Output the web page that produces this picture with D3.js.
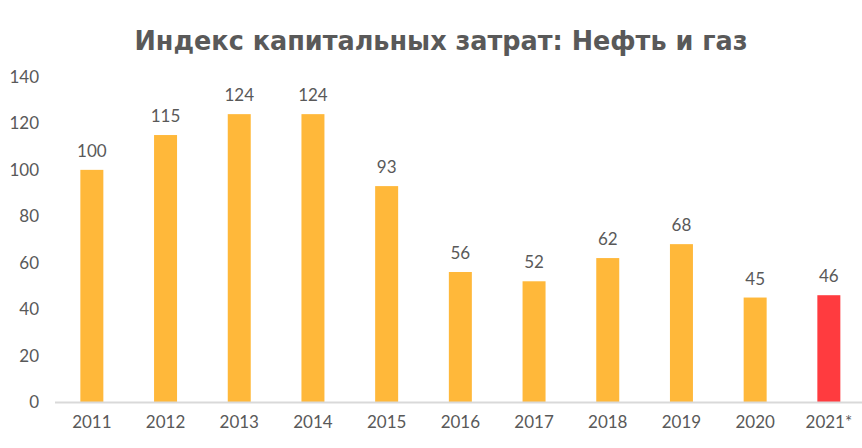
<!DOCTYPE html>
<html><head><meta charset="utf-8">
<script src="https://cdn.jsdelivr.net/npm/d3@7"></script>
<style>body{margin:0;background:#fff}svg{display:block}</style>
</head><body>
<script>
const categories = ["2011","2012","2013","2014","2015","2016","2017","2018","2019","2020","2021*"];
const values = [100,115,124,124,93,56,52,62,68,45,46];
const yTicks = [0,20,40,60,80,100,120,140];
const title = "Индекс капитальных затрат: Нефть и газ";

const W = 862, H = 448;
const svg = d3.select("body").append("svg").attr("width", W).attr("height", H);
const x = d3.scaleBand().domain(categories).range([55, 55 + 11*73.7]).paddingInner(0.688).paddingOuter(0.344);
const y = d3.scaleLinear().domain([0,140]).range([402, 77]);
const font = "Lato, 'Open Sans', sans-serif";
const txt = "#595959";

svg.append("text").attr("x", 441).attr("y", 50).attr("text-anchor","middle")
  .attr("font-family","'DejaVu Sans', sans-serif").attr("font-weight","bold").attr("font-size",26)
  .attr("textLength", 613).attr("lengthAdjust","spacingAndGlyphs")
  .attr("fill", txt).text(title);

svg.selectAll("rect.bar").data(values).join("rect").attr("class","bar")
  .attr("x",(d,i)=>x(categories[i])).attr("width",x.bandwidth())
  .attr("y",d=>y(d)).attr("height",d=>y(0)-y(d))
  .attr("fill",(d,i)=> i===categories.length-1 ? "#FF3B3F" : "#FFB83A");

svg.append("line").attr("x1",55).attr("x2",W).attr("y1",y(0)+0.5).attr("y2",y(0)+0.5)
  .attr("stroke","#d9d9d9").attr("stroke-width",2);

const yAxis = d3.axisLeft(y).tickValues(yTicks).tickSize(0).tickPadding(0);
const gy = svg.append("g").attr("transform","translate(39,0)").call(yAxis);
gy.select(".domain").remove();
gy.selectAll("text").attr("font-family",font).attr("font-size",17).attr("fill",txt);

const xAxis = d3.axisBottom(x).tickSize(0).tickPadding(0);
const gx = svg.append("g").attr("transform","translate(0,416)").call(xAxis);
gx.select(".domain").remove();
gx.selectAll("text").attr("font-family",font).attr("font-size",17).attr("fill",txt);

svg.selectAll("text.val").data(values).join("text").attr("class","val")
  .attr("x",(d,i)=>x(categories[i])+x.bandwidth()/2).attr("y",d=>y(d)-13)
  .attr("text-anchor","middle").attr("font-family",font).attr("font-size",17).attr("fill",txt)
  .text(d=>d);
</script>
</body></html>
